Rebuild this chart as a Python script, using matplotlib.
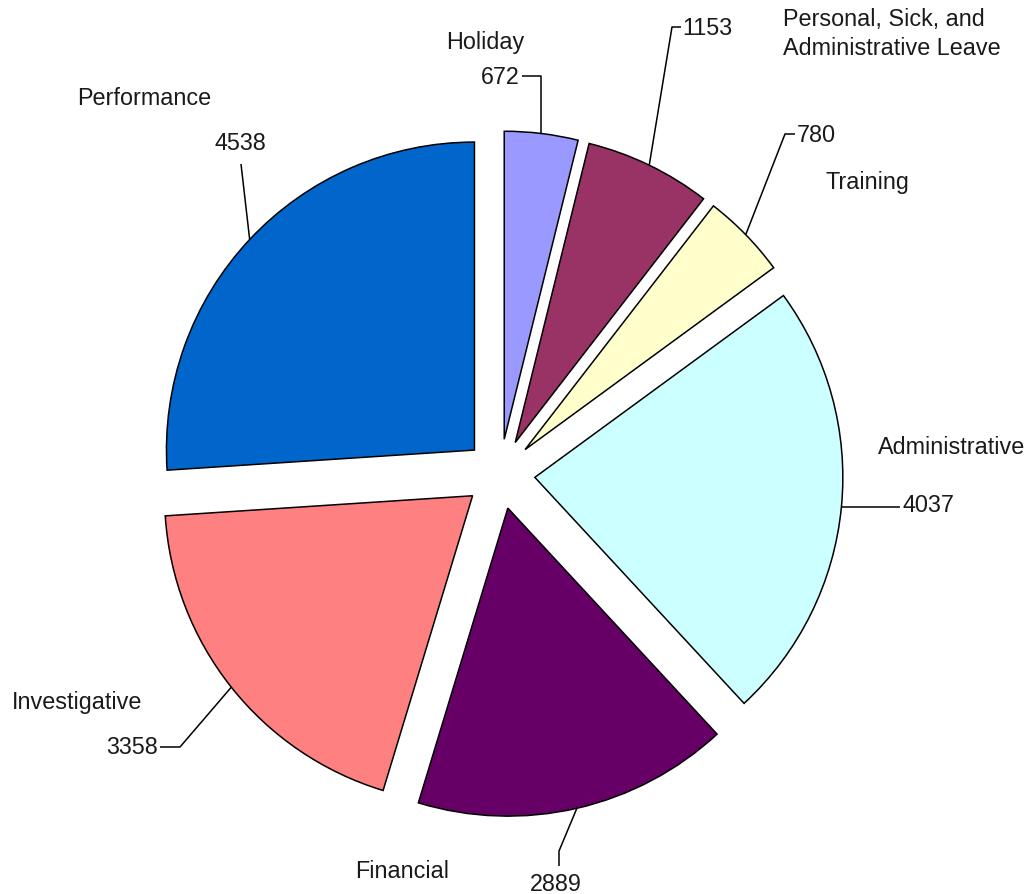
import math
import matplotlib
matplotlib.use("Agg")
import matplotlib.pyplot as plt

# ---- data ----
categories = ["Holiday", "Personal, Sick, and\nAdministrative Leave", "Training",
              "Administrative", "Financial", "Investigative", "Performance"]
values = [672, 1153, 780, 4037, 2889, 3358, 4538]
colors = ["#9999FF", "#993366", "#FFFFCC", "#CCFFFF", "#660066", "#FF8080", "#0066CC"]

W, H = 1030, 895
plt.rcParams['font.family'] = ['Liberation Sans', 'DejaVu Sans']
FS = 16.8
TXT = "#1a1a1a"

fig = plt.figure(figsize=(W / 100, H / 100), dpi=100)
ax = fig.add_axes([0, 0, 1, 1])

def P(x, yimg):
    return (x, H - yimg)

center = P(500, 475)
radius = 308
explode = [35] * len(values)

wedges, _ = ax.pie(values, colors=colors, startangle=90, counterclock=False,
                   center=center, radius=radius, explode=explode,
                   wedgeprops=dict(edgecolor="black", linewidth=1.1))
ax.set_xlim(0, W)
ax.set_ylim(0, H)
ax.axis("off")

def arc_mid(w):
    t = math.radians((w.theta1 + w.theta2) / 2)
    cx, cy = w.center
    return (cx + w.r * math.cos(t), cy + w.r * math.sin(t))

# layout: leader elbow points (image coords) and text placement
layout = [
    (lambda a: [(a[0], 77), (522, 77)], (520, 77), "right", (485, 42), "center"),
    (lambda a: [(672, 28), (681, 28)], (682, 28), "left", (783, 34), "left"),
    (lambda a: [(785, 135), (795, 135)], (797, 135), "left", (825, 183), "left"),
    (lambda a: [(900, a[1])], (902, 505), "left", (878, 448), "left"),
    (lambda a: [(559, 852), (559, 867)], (556, 885), "center", (402, 872), "center"),
    (lambda a: [(180, 748), (160, 748)], (158, 748), "right", (12, 702), "left"),
    (lambda a: [(241, 165)], (240, 143), "center", (77, 98), "left"),
]

for w, v, lab, (pts_fn, vpos, vha, lpos, lha) in zip(wedges, values, categories, layout):
    ax_, ay_ = arc_mid(w)
    a_img = (ax_, H - ay_)
    pts = [a_img] + pts_fn(a_img)
    xs = [p[0] for p in pts]
    ys = [H - p[1] for p in pts]
    ax.plot(xs, ys, color="black", linewidth=1.1, solid_capstyle="butt")
    ax.text(*P(*vpos), f"{v}", ha=vha, va="center", fontsize=FS, color=TXT)
    ax.text(*P(*lpos), lab, ha=lha, va="center", fontsize=FS, color=TXT,
            linespacing=1.3)

fig.savefig("out.png", dpi=100)
